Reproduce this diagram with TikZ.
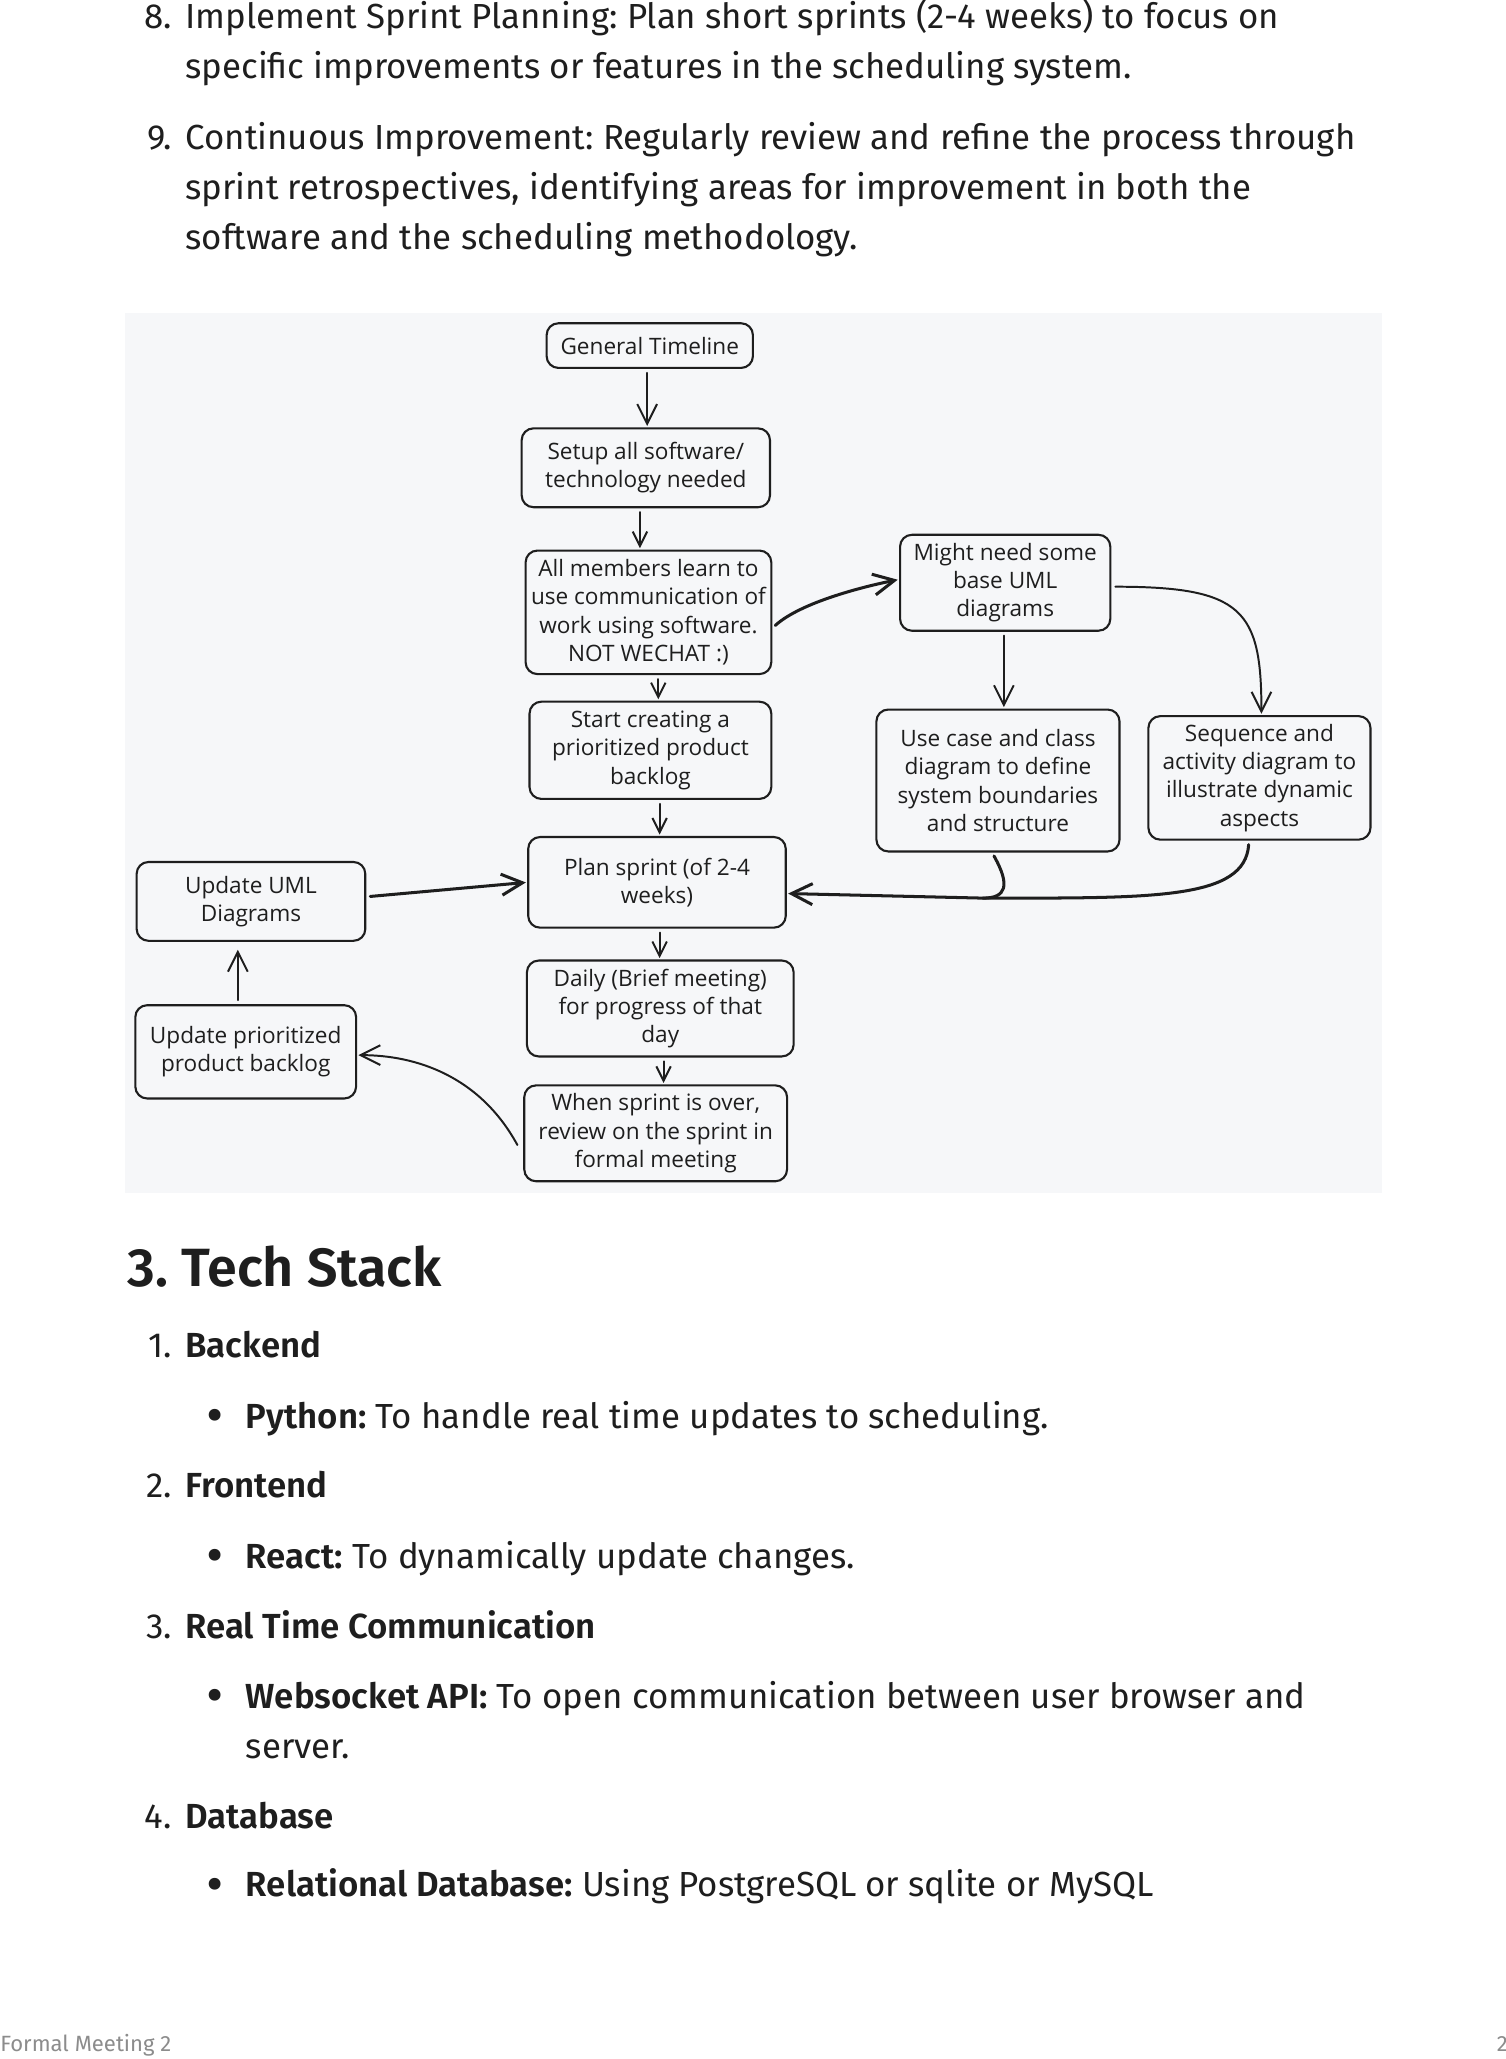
\documentclass[tikz,border=0pt]{standalone}
\usepackage{fontspec}
\setmainfont{Fira Sans}[BoldFont={Fira Sans SemiBold}]
\newfontfamily\handfamily{Open Sans}
\usetikzlibrary{arrows.meta}
\frenchspacing
\definecolor{ink}{HTML}{1E1E1E}
\definecolor{canvas}{HTML}{F6F7F9}
\definecolor{footer}{HTML}{8C8C8C}
\newcommand{\txt}{\fontsize{26.5}{38}\selectfont}
\newcommand{\hnd}{\handfamily\fontsize{17.2}{21.5}\selectfont}
\tikzstyle{every node}=[inner sep=0pt,text=ink]
\tikzstyle{bodytext}=[anchor=base west,font=\txt]
\tikzstyle{listnum}=[anchor=base east,font=\txt]
\tikzstyle{bullet}=[anchor=base,font=\bfseries\fontsize{34}{38}\selectfont]
\tikzstyle{stepbox}=[draw=ink,line width=1.6pt,rounded corners=9pt,inner sep=2pt,align=center,font=\hnd]
\tikzstyle{flow}=[draw=ink,line width=1.5pt,line cap=round,shorten <=3pt,shorten >=1pt,-{Straight Barb[length=15pt,width=15pt]}]
\tikzstyle{short}=[-{Straight Barb[length=11pt,width=11pt]}]
\tikzstyle{boldline}=[draw=ink,line width=2.3pt,line cap=round,shorten <=3pt]
\tikzstyle{boldflow}=[flow,line width=2.3pt,-{Straight Barb[length=16pt,width=16pt]}]

\begin{document}
\begin{tikzpicture}[x=1pt,y=-1pt]
  \useasboundingbox (0,0) rectangle (1146,1567);
  \fill[white] (0,0) rectangle (1146,1567);
  \node[listnum] (n8) at (131,21.6) {8.};
  \node[bodytext] (p8a) at (141,21.6) {Implement Sprint Planning: Plan short sprints (2-4 weeks) to focus on};
  \node[bodytext] (p8b) at (141,59.6) {specific improvements or features in the scheduling system.};
  \node[listnum] (n9) at (131,114) {9.};
  \node[bodytext] (p9a) at (141,114) {Continuous Improvement: Regularly review and refine the process through};
  \node[bodytext] (p9b) at (141,152) {sprint retrospectives, identifying areas for improvement in both the};
  \node[bodytext] (p9c) at (141,190) {software and the scheduling methodology.};

  \fill[canvas] (95,238) rectangle (1052,908);
  \node[stepbox,minimum width=157pt,minimum height=34pt] (gt) at (494.5,263) {General Timeline};
  \node[stepbox,minimum width=189pt,minimum height=60pt] (setup) at (491.5,356) {Setup all software/\\technology needed};
  \node[stepbox,minimum width=187pt,minimum height=94pt] (learn) at (493.5,466) {All members learn to\\use communication of\\work using software.\\NOT WECHAT :)};
  \node[stepbox,minimum width=160pt,minimum height=73pt] (uml) at (765,443.5) {Might need some\\base UML\\diagrams};
  \node[stepbox,minimum width=184pt,minimum height=74pt] (backlog) at (495,571) {Start creating a\\prioritized product\\backlog};
  \node[stepbox,minimum width=185pt,minimum height=108pt] (usecase) at (759.5,594) {Use case and class\\diagram to define\\system boundaries\\and structure};
  \node[stepbox,minimum width=169pt,minimum height=94pt] (seq) at (958.5,592) {Sequence and\\activity diagram to\\illustrate dynamic\\aspects};
  \node[stepbox,minimum width=196pt,minimum height=69pt] (plan) at (500,671.5) {Plan sprint (of 2-4\\weeks)};
  \node[stepbox,minimum width=174pt,minimum height=60pt] (upduml) at (191,686) {Update UML\\Diagrams};
  \node[stepbox,minimum width=203pt,minimum height=73pt] (daily) at (502.5,767.5) {Daily (Brief meeting)\\for progress of that\\day};
  \node[stepbox,minimum width=168pt,minimum height=71pt] (updbacklog) at (187,800.5) {Update prioritized\\product backlog};
  \node[stepbox,minimum width=200pt,minimum height=73pt] (review) at (499,862.5) {When sprint is over,\\review on the sprint in\\formal meeting};
  \coordinate (merge) at (748,683.5);

  \draw[flow] ([xshift=-2pt]gt.south) -- ([xshift=-2pt]gt.south |- setup.north);
  \draw[flow,short] ([xshift=-4.5pt]setup.south) -- ([xshift=-4.5pt]setup.south |- learn.north);
  \draw[boldflow] ([yshift=-12pt]learn.east) .. controls +(22,-20) and +(-25,5) .. ([yshift=2.5pt]uml.west);
  \draw[flow,short] ([xshift=7.5pt]learn.south) -- ([xshift=7.5pt]learn.south |- backlog.north);
  \draw[flow] ([xshift=-1pt]uml.south) -- ([xshift=-1pt]uml.south |- usecase.north);
  \draw[flow] ([yshift=-3pt]uml.east) .. controls +(100,0) and +(0,-80) .. ([xshift=1.5pt]seq.north);
  \draw[flow,short] ([xshift=7pt]backlog.south) -- ([xshift=7pt]backlog.south |- plan.north);
  \draw[boldflow] ([xshift=-4.5pt]usecase.south) .. controls +(14,25) and +(18,0) .. (merge) -- ([yshift=-8.5pt]plan.east);
  \draw[boldline] ([xshift=-8pt]seq.south) .. controls +(-3,45) and +(130,0) .. (merge);
  \draw[boldflow] ([yshift=3.5pt]upduml.east) -- (plan.west);
  \draw[flow,short] ([xshift=2pt]plan.south) -- ([xshift=2pt]plan.south |- daily.north);
  \draw[flow,short] ([xshift=2.5pt]daily.south) -- ([xshift=2.5pt]daily.south |- review.north);
  \draw[flow] ([xshift=-3pt,yshift=-11.5pt]review.west) .. controls +(-30,-55) and +(45,0) .. ([yshift=-2.5pt]updbacklog.east);
  \draw[flow,shorten >=6pt] ([xshift=-6pt]updbacklog.north) -- ([xshift=-6pt]updbacklog.north |- upduml.south);

  \node[anchor=base west,font=\bfseries\fontsize{41}{44}\selectfont] (tech) at (97,979) {3. Tech Stack};
  \node[listnum] (n1) at (131,1033) {1.};
  \node[bodytext,font=\txt\bfseries] (backend) at (141,1033) {Backend};
  \node[bullet] (b1) at (164,1089) {•};
  \node[bodytext] (python) at (187,1087) {\textbf{Python:} To handle real time updates to scheduling.};
  \node[listnum] (n2) at (131,1139.5) {2.};
  \node[bodytext,font=\txt\bfseries] (frontend) at (141,1139.5) {Frontend};
  \node[bullet] (b2) at (164,1195.5) {•};
  \node[bodytext] (react) at (187,1193.5) {\textbf{React:} To dynamically update changes.};
  \node[listnum] (n3) at (131,1247) {3.};
  \node[bodytext,font=\txt\bfseries] (realtime) at (141,1247) {Real Time Communication};
  \node[bullet] (b3) at (164,1302) {•};
  \node[bodytext] (socket) at (187,1300) {\textbf{Websocket API:} To open communication between user browser and};
  \node[bodytext] (server) at (187,1338) {server.};
  \node[listnum] (n4) at (131,1391.4) {4.};
  \node[bodytext,font=\txt\bfseries] (database) at (141,1391.4) {Database};
  \node[bullet] (b4) at (164,1445.4) {•};
  \node[bodytext] (relational) at (187,1443.4) {\textbf{Relational Database:} Using PostgreSQL or sqlite or MySQL};

  \node[anchor=base west,font=\fontsize{16.8}{18}\selectfont,text=footer] (foot) at (0,1561.4) {Formal Meeting 2};
  \node[anchor=base west,font=\fontsize{16.8}{18}\selectfont,text=footer] (page) at (1139,1561.4) {2};
\end{tikzpicture}
\end{document}
